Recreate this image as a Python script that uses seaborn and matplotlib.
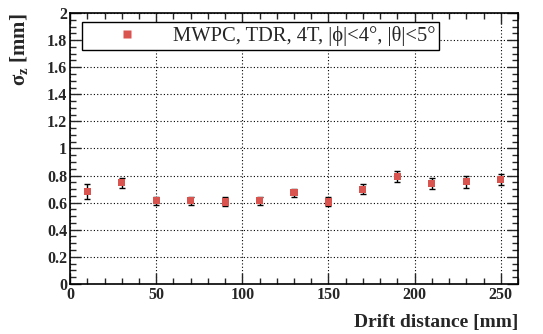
import numpy as np
import matplotlib
matplotlib.use("Agg")
import matplotlib.pyplot as plt
import seaborn as sns
import pandas as pd
from matplotlib.ticker import MultipleLocator

drift = [10, 30, 50, 70, 90, 110, 130, 150, 170, 190, 210, 230, 250]
sigma = [0.682, 0.746, 0.615, 0.615, 0.605, 0.615, 0.674, 0.605, 0.699, 0.793, 0.741, 0.753, 0.768]
err = [0.055, 0.038, 0.030, 0.030, 0.033, 0.030, 0.030, 0.033, 0.035, 0.040, 0.038, 0.043, 0.040]
label = "MWPC, TDR, 4T, |ϕ|<4°, |θ|<5°"

sns.set_style("ticks")
plt.rcParams['font.family'] = ['Liberation Serif', 'DejaVu Serif']
plt.rcParams['font.weight'] = 'bold'
plt.rcParams['mathtext.fontset'] = 'custom'
plt.rcParams['mathtext.rm'] = 'Liberation Serif:bold'
plt.rcParams['mathtext.it'] = 'Liberation Serif:bold'
plt.rcParams['mathtext.bf'] = 'Liberation Serif:bold'

df = pd.DataFrame({"drift": drift, "sigma": sigma, "err": err, "series": label})

fig = plt.figure(figsize=(5.43, 3.34), dpi=100)
ax = fig.add_axes([0.129, 0.150, 0.825, 0.811])

ax.errorbar(df["drift"], df["sigma"], yerr=df["err"], fmt="none", ecolor="black",
            elinewidth=1.0, capsize=2, capthick=1.0, zorder=2)
sns.scatterplot(data=df, x="drift", y="sigma", hue="series", palette=["#d9534f"],
                marker="s", s=26, edgecolor="none", ax=ax, zorder=3)

ax.set_xlim(0, 260)
ax.set_ylim(0, 2)
ax.xaxis.set_major_locator(MultipleLocator(50))
ax.xaxis.set_minor_locator(MultipleLocator(10))
ax.yaxis.set_major_locator(MultipleLocator(0.2))
ax.yaxis.set_minor_locator(MultipleLocator(0.05))
ax.yaxis.set_major_formatter(matplotlib.ticker.FuncFormatter(lambda v, p: f"{v:g}"))
ax.tick_params(which="both", direction="in", top=True, right=True, width=1.0)
ax.tick_params(which="major", length=8, labelsize=11.5, pad=2)
ax.tick_params(which="minor", length=4)
ax.grid(True, which="major", linestyle=(0, (1, 2)), color="black", linewidth=0.8)
for s in ax.spines.values():
    s.set_linewidth(1.2)
    s.set_color("black")

ax.set_xlabel("Drift distance [mm]", fontsize=14, fontweight="bold", loc="right", labelpad=8)
ax.set_ylabel(r"$\sigma_z$ [mm]", fontsize=15, fontweight="bold", loc="top", labelpad=12)

leg = ax.legend(loc="upper left", bbox_to_anchor=(0.027, 0.967),
                prop={"family": ["Liberation Serif", "DejaVu Serif"], "weight": "normal", "size": 14.8},
                frameon=True, fancybox=False, edgecolor="black", framealpha=1,
                borderpad=0.2, handlelength=4.0, handletextpad=0.2, borderaxespad=0)
leg.get_frame().set_linewidth(1.0)
leg.set_zorder(5)

fig.savefig("out.png", dpi=100)
